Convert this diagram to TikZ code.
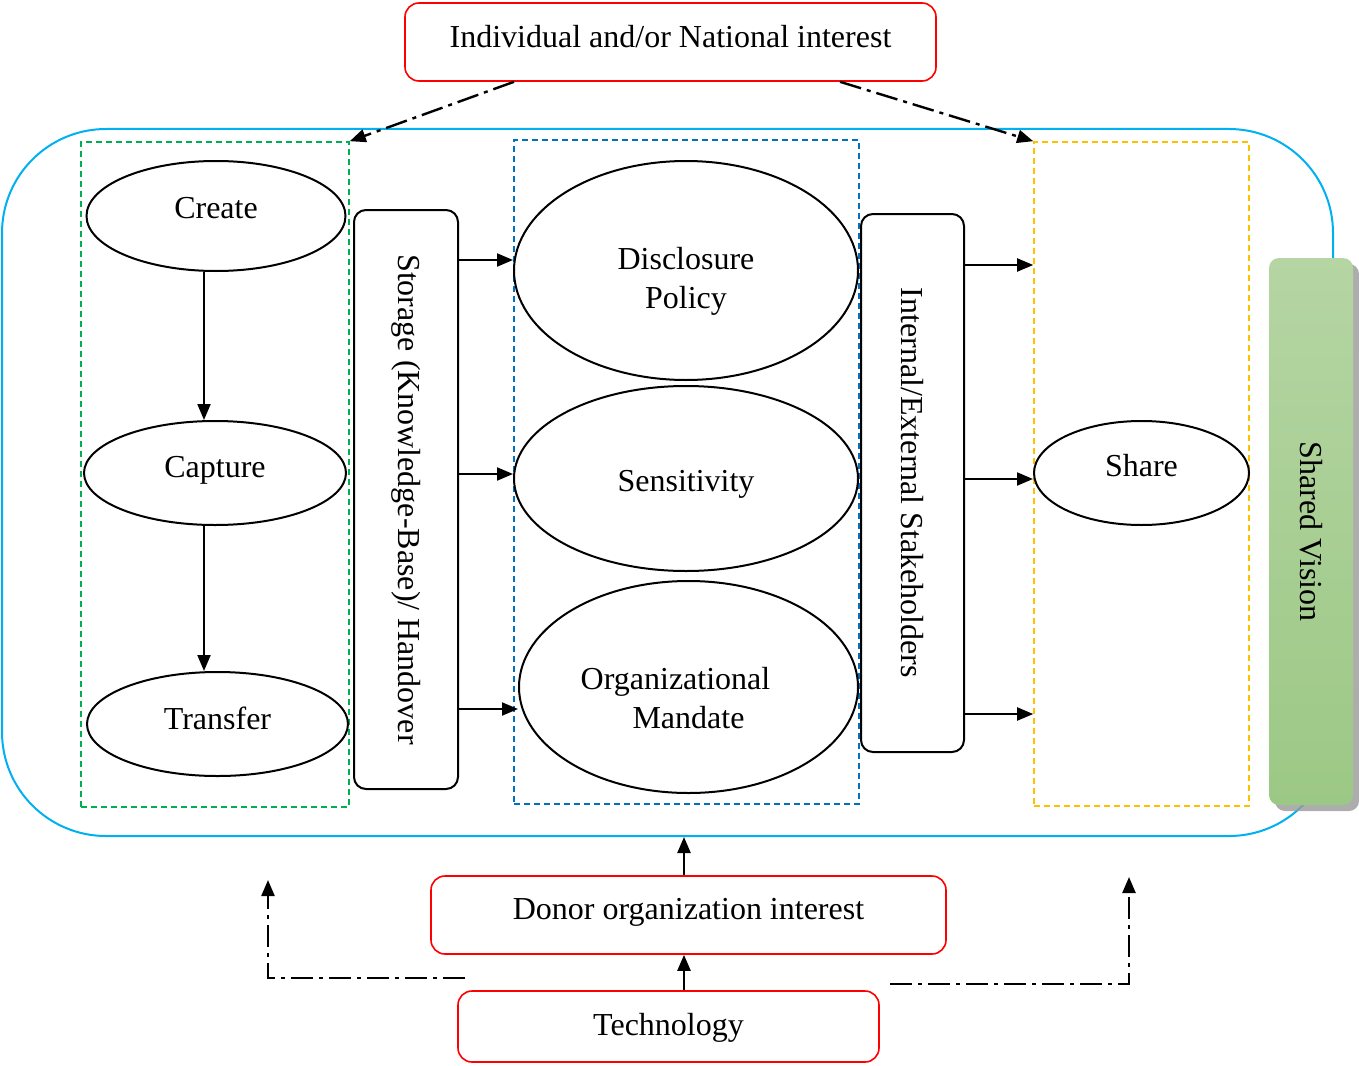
\documentclass[tikz,border=0pt]{standalone}
\usepackage{fontspec}
\setmainfont{Liberation Serif}
\usepackage{graphicx}
\usetikzlibrary{shapes.geometric, arrows.meta, shadows}
\definecolor{lineblue}{HTML}{00B0F0}
\definecolor{fgreen}{HTML}{00B050}
\definecolor{fblue}{HTML}{0070C0}
\definecolor{fyellow}{HTML}{FFC000}
\definecolor{svtop}{HTML}{B5D5A3}
\definecolor{svbot}{HTML}{9CC885}
% shift a label vertically without changing its box
\newcommand{\lift}[2]{\raisebox{#1}[\height][\depth]{#2}}
\newcommand{\twolines}[2]{\begin{tabular}{@{}c@{}}#1\\#2\end{tabular}}
\begin{document}
\begin{tikzpicture}[x=0.5pt, y=-0.5pt, font=\fontsize{16}{19.5}\selectfont,
  oval/.style={draw, ellipse, line width=1pt, inner sep=0pt},
  bar/.style={draw, rounded corners=6pt, line width=1pt, inner sep=0pt},
  frame/.style={draw, dash pattern=on 3pt off 2pt, line width=0.8pt, inner sep=0pt},
  redbox/.style={draw=red, rounded corners=7pt, line width=0.8pt, inner sep=0pt},
  arr/.style={line width=1pt, -{Triangle[length=8pt,width=6.5pt]}},
  dd/.style={line width=1.2pt, dash pattern=on 11pt off 3pt on 2pt off 3pt,
             -{Triangle[length=8pt,width=6.5pt]}},
]
\useasboundingbox (0,0) rectangle (1359,1065);

% outer boundary
\node[draw=lineblue, line width=1pt, rounded corners=52pt, inner sep=0pt,
      minimum width=665.5pt, minimum height=353.5pt] (outer) at (667.5,482.5) {};

% dashed groups
\node[frame, draw=fgreen, minimum width=134pt, minimum height=332.5pt] (fleft) at (215,474.5) {};
\node[frame, draw=fblue, minimum width=172.5pt, minimum height=332pt] (fmid) at (686.5,472) {};
\node[frame, draw=fyellow, minimum width=107.5pt, minimum height=332pt] (fright) at (1141.5,474) {};

% left column
\node[oval, minimum width=129.5pt, minimum height=55pt] (create) at (216,216) {\lift{4pt}{Create}};
\node[oval, minimum width=131pt, minimum height=52pt] (capture) at (215,473) {\lift{1.5pt}{Capture}};
\node[oval, minimum width=130.5pt, minimum height=52pt] (transfer) at (217.5,724) {\lift{3pt}{Transfer}};

% vertical bars
\node[bar, minimum width=52pt, minimum height=289.5pt] (store) at (406,499.5)
  {\rotatebox{-90}{Storage (Knowledge-Base)/ Handover}};
\node[bar, minimum width=51.5pt, minimum height=269pt] (stake) at (912.5,483)
  {\rotatebox{-90}{Internal/External Stakeholders}};

% middle column
\node[oval, minimum width=172pt, minimum height=109.5pt] (disc) at (686,270.5)
  {\lift{-5.5pt}{\twolines{Disclosure}{Policy}}};
\node[oval, minimum width=172pt, minimum height=92.5pt] (sens) at (686,478.5)
  {\lift{-3pt}{Sensitivity}};
\node[oval, minimum width=169.5pt, minimum height=106pt] (org) at (688.5,687)
  {\lift{-7pt}{\twolines{\kern-13pt Organizational}{Mandate}}};

% right column
\node[oval, minimum width=107.5pt, minimum height=52pt] (share) at (1141.5,473) {\lift{3.5pt}{Share}};

\node[inner sep=0pt, rounded corners=5pt, minimum width=42pt, minimum height=273.5pt,
      top color=svtop, bottom color=svbot,
      drop shadow={shadow xshift=3pt, shadow yshift=-3pt, fill=black!40, opacity=0.8}]
  (sv) at (1311,531.5) {\rotatebox{-90}{Shared Vision}};

% influence boxes
\node[redbox, minimum width=265.5pt, minimum height=39pt] (ind) at (670.5,42)
  {\lift{2.5pt}{Individual and/or National interest}};
\node[redbox, minimum width=257.5pt, minimum height=39pt] (donor) at (688.5,915)
  {\lift{1.5pt}{Donor organization interest}};
\node[redbox, minimum width=210.5pt, minimum height=35.5pt] (tech) at (668.5,1026.5)
  {\lift{-0.5pt}{Technology}};

% helper coordinates
\coordinate (xa) at (204,0);
\coordinate (ya) at (0,260);
\coordinate (yb) at (0,474);
\coordinate (yc) at (0,709);
\coordinate (yd) at (0,265);
\coordinate (ye) at (0,479);
\coordinate (yf) at (0,714);
\coordinate (t1) at (514,0);
\coordinate (t2) at (840,0);
\coordinate (b1) at (684,0);
\coordinate (l0) at (465,978);
\coordinate (l1) at (268,880);
\coordinate (r0) at (890,984);
\coordinate (r1) at (1129,877);

% process flow
\draw[arr] (create.south -| xa) -- (capture.north -| xa);
\draw[arr] (capture.south -| xa) -- (transfer.north -| xa);

\draw[arr] (store.east |- ya) -- (disc.west |- ya);
\draw[arr] (store.east |- yb) -- (sens.west |- yb);
\draw[arr] (store.east |- yc) -- (org.west |- yc);

\draw[arr] (stake.east |- yd) -- (fright.west |- yd);
\draw[arr] (stake.east |- ye) -- (share.west |- ye);
\draw[arr] (stake.east |- yf) -- (fright.west |- yf);

% influences
\draw[dd] (ind.south -| t1) -- (fleft.north east);
\draw[dd] (ind.south -| t2) -- (fright.north west);
\draw[dd] (donor.north -| b1) -- (outer.south -| b1);
\draw[dd] (tech.north -| b1) -- (donor.south -| b1);
\draw[dd] (l0) -| (l1);
\draw[dd] (r0) -| (r1);
\end{tikzpicture}
\end{document}
